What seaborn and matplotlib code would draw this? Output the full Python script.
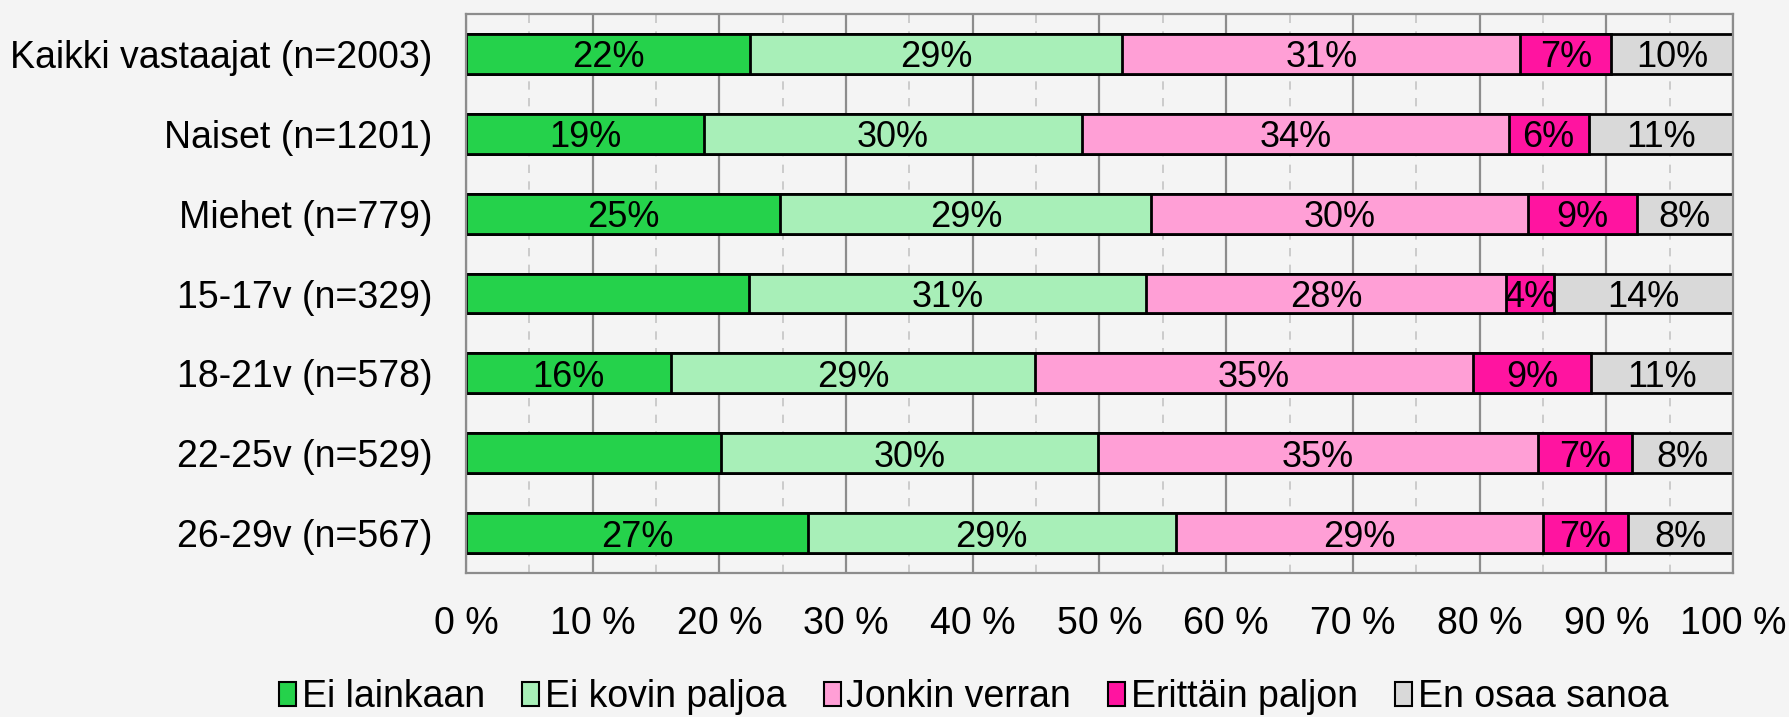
import pandas as pd
import matplotlib
matplotlib.use("Agg")
import matplotlib.pyplot as plt
from matplotlib.patches import Patch
from matplotlib.ticker import MultipleLocator
import seaborn as sns

# data (share of respondents, %)
groups = ["Kaikki vastaajat (n=2003)", "Naiset (n=1201)", "Miehet (n=779)",
          "15-17v (n=329)", "18-21v (n=578)", "22-25v (n=529)", "26-29v (n=567)"]
answers = ["Ei lainkaan", "Ei kovin paljoa", "Jonkin verran", "Erittäin paljon", "En osaa sanoa"]
ei_lainkaan = [22.4, 18.8, 24.8, 22.3, 16.2, 20.1, 27.0]
ei_kovin = [29.4, 29.8, 29.3, 31.4, 28.7, 29.8, 29.0]
jonkin_verran = [31.4, 33.7, 29.7, 28.4, 34.6, 34.7, 29.0]
erittain = [7.2, 6.3, 8.6, 3.8, 9.3, 7.4, 6.7]
en_osaa = [9.6, 11.4, 7.6, 14.1, 11.2, 8.0, 8.3]
# segments that carry no label in the original
unlabelled = [(3, 0), (5, 0)]

colors = ["#25d24b", "#a8efb8", "#ff9fd6", "#ff14a0", "#d9d9d9"]

df = pd.DataFrame({"group": groups,
                   answers[0]: ei_lainkaan, answers[1]: ei_kovin,
                   answers[2]: jonkin_verran, answers[3]: erittain,
                   answers[4]: en_osaa})
cum = df[answers].cumsum(axis=1)

sns.set_style("white")
plt.rcParams["font.family"] = ["Liberation Sans", "DejaVu Sans"]
plt.rcParams["text.color"] = "black"
bg = "#f4f4f4"
fs = 27

fig, ax = plt.subplots(figsize=(17.9, 7.17), dpi=100)
fig.patch.set_facecolor(bg)
ax.set_facecolor(bg)
fig.subplots_adjust(left=466 / 1790, right=1733 / 1790, top=1 - 14 / 717, bottom=1 - 573 / 717)

# stacked bars: draw cumulative totals from the longest to the shortest
for ans, col in reversed(list(zip(answers, colors))):
    sns.barplot(x=cum[ans], y=df["group"], color=col, orient="h", width=0.5,
                edgecolor="black", linewidth=2, ax=ax, saturation=1)

for i in range(len(groups)):
    start = 0
    for j, ans in enumerate(answers):
        v = df.loc[i, ans]
        if (i, j) not in unlabelled:
            ax.text(start + v / 2, i, f"{round(v)}%", ha="center", va="center_baseline",
                    fontsize=26, color="black")
        start += v

ax.set_xlim(0, 100)
ax.xaxis.set_minor_locator(MultipleLocator(5))
ax.set_xticks(range(0, 101, 10))
ax.set_xticklabels([f"{t} %" for t in range(0, 101, 10)])
ax.grid(axis="x", which="major", color="#8c8c8c", linewidth=1.6)
ax.grid(axis="x", which="minor", color="#c4c4c4", linewidth=1.2, linestyle=(0, (5, 5)))
ax.set_axisbelow(True)
ax.tick_params(axis="x", which="both", length=0, pad=24, labelsize=fs, labelcolor="black")
ax.tick_params(axis="y", length=0, pad=24, labelsize=fs, labelcolor="black")
ax.set_xlabel("")
ax.set_ylabel("")
for s in ax.spines.values():
    s.set_visible(True)
    s.set_color("#8c8c8c")
    s.set_linewidth(1.6)

handles = [Patch(facecolor=c, edgecolor="black", linewidth=1.5) for c in colors]
fig.legend(handles, answers, loc="center", bbox_to_anchor=(0.544, 0.028), ncol=5,
           frameon=False, fontsize=fs, handlelength=0.45, handleheight=0.6,
           handletextpad=0.15, columnspacing=1.0, labelcolor="black")

fig.savefig("out.png", dpi=100, facecolor=bg)
